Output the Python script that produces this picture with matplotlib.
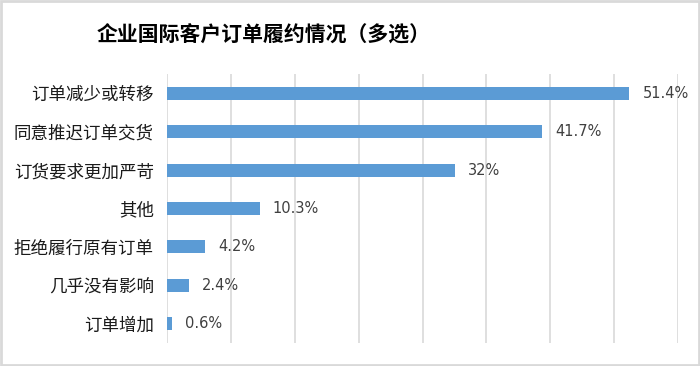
import matplotlib

matplotlib.use("Agg")
import matplotlib.pyplot as plt
from matplotlib.patches import Rectangle
import numpy as np

plt.rcParams["font.family"] = ["Noto Sans CJK SC", "DejaVu Sans"]

categories = ["订单减少或转移", "同意推迟订单交货", "订货要求更加严苛", "其他",
              "拒绝履行原有订单", "几乎没有影响", "订单增加"]
values = [51.4, 41.7, 32.0, 10.3, 4.2, 2.4, 0.6]
value_labels = ["51.4%", "41.7%", "32%", "10.3%", "4.2%", "2.4%", "0.6%"]
title = "企业国际客户订单履约情况（多选）"

x_max = 56.8


def main() -> None:
    fig = plt.figure(figsize=(7, 3.66), dpi=100)
    ax = fig.add_axes([0.2386, 0.0628, 0.73, 0.735])

    y = np.arange(len(categories))
    ax.barh(y, values, height=0.34, color="#5B9BD5", zorder=3)

    for yi, v, lab in zip(y, values, value_labels):
        ax.text(v + 1.45, yi, lab, va="center", ha="left", fontsize=10.5,
                color="#404040", family=["DejaVu Sans"])

    ax.set_xlim(0, x_max)
    ax.set_ylim(len(categories) - 0.5, -0.5)
    ax.set_xticks(np.linspace(0, x_max, 9))
    ax.set_xticklabels([])
    ax.set_yticks(y)
    ax.set_yticklabels(categories, fontsize=12.6, color="#1a1a1a")
    ax.tick_params(axis="both", length=0)
    ax.tick_params(axis="y", pad=9.5)
    ax.grid(True, axis="x", color="#d9d9d9", linewidth=1.2, zorder=0)
    for side in ax.spines.values():
        side.set_visible(False)

    fig.text(0.376, 0.905, title, ha="center", va="center", fontsize=15,
             fontweight="bold", color="black")

    fig.patches.append(Rectangle((0.0015, 0.003), 0.997, 0.994,
                                 transform=fig.transFigure, fill=False,
                                 edgecolor="#d9d9d9", linewidth=2))

    fig.savefig("out.png", dpi=100)
    plt.close(fig)


if __name__ == "__main__":
    main()
